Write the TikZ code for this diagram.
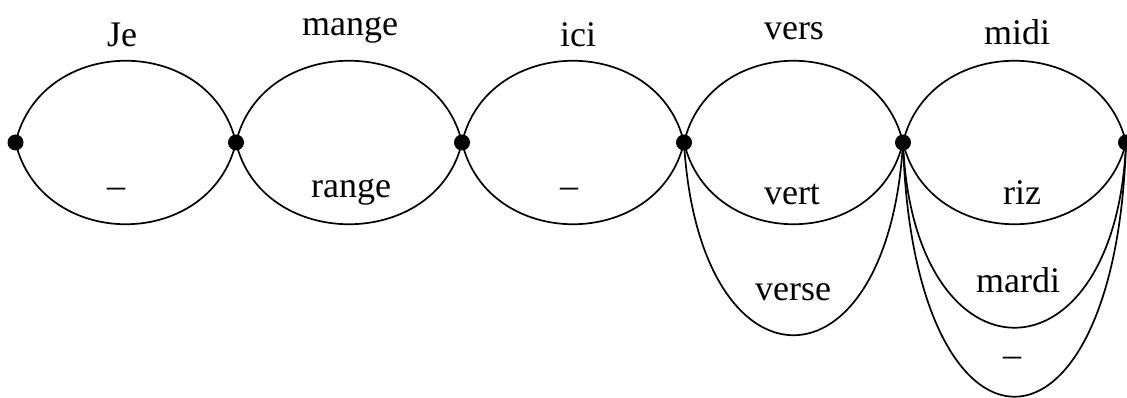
\documentclass[tikz,border=0pt]{standalone}
\usepackage{fontspec}
\setmainfont{Liberation Serif}
\begin{document}
\begin{tikzpicture}[x=1pt,y=-1pt,
  dot/.style={circle,fill=black,inner sep=0pt,minimum size=16pt},
  lbl/.style={inner sep=0pt,anchor=base,font=\fontsize{36}{40}\selectfont},
  edge/.style={line width=1.7pt}]
\useasboundingbox (0,0) rectangle (1127,398);
\node[dot] (n0) at (15.5,142.5) {};
\node[dot] (n1) at (236,142.5) {};
\node[dot] (n2) at (462,142.5) {};
\node[dot] (n3) at (684,142.5) {};
\node[dot] (n4) at (903,142.5) {};
\node[dot] (n5) at (1126,142.5) {};
% upper and lower arcs
\foreach \a/\b in {n0/n1,n1/n2,n2/n3,n3/n4,n4/n5}{
  \draw[edge] (\a.center) .. controls +(26,-109) and +(-26,-109) .. (\b.center);
  \draw[edge] (\a.center) .. controls +(26,109) and +(-26,109) .. (\b.center);
}
\draw[edge] (n3.center) .. controls +(15,257) and +(-15,257) .. (n4.center);
\draw[edge] (n4.center) .. controls +(10,247) and +(-10,247) .. (n5.center);
\draw[edge] (n4.center) .. controls +(10,339) and +(-10,339) .. (n5.center);
% labels
\node[lbl] (l1) at (122,47) {Je};
\node[lbl] (l2) at (350,36) {mange};
\node[lbl] (l3) at (578,47) {ici};
\node[lbl] (l4) at (794,40) {vers};
\node[lbl] (l5) at (1017,45) {midi};
\node[lbl] (b1) at (116,198) {--};
\node[lbl] (b2) at (351,198) {range};
\node[lbl] (b3) at (569,198) {--};
\node[lbl] (b4) at (792,205) {vert};
\node[lbl] (b5) at (1022,205) {riz};
\node[lbl] (c4) at (793,300) {verse};
\node[lbl] (c5) at (1018,292) {mardi};
\node[lbl] (d5) at (1012,366) {--};
\end{tikzpicture}
\end{document}
